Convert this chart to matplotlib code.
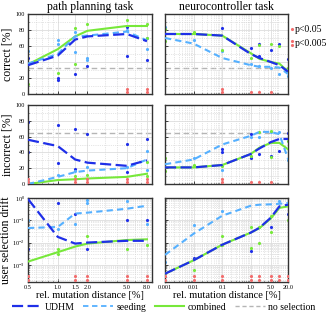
import matplotlib
matplotlib.use("Agg")
import matplotlib.pyplot as plt
from matplotlib.lines import Line2D
from matplotlib.ticker import FixedLocator, NullFormatter, LogLocator

plt.rcParams['font.family'] = ['Liberation Serif', 'DejaVu Serif']
plt.rcParams['mathtext.fontset'] = 'dejavuserif'

# x positions (rel. mutation distance [%])
x_pp = [0.5, 1.0, 1.5, 2.0, 5.0, 8.0]
x_nc = [0.001, 0.01, 0.1, 1.0, 2.0, 5.0, 10.0, 20.0]
xt_pp = [0.5, 1.0, 1.5, 2.0, 5.0, 8.0]
xt_pp_labels = ["0.5", "1.0", "1.5", "2.0", "5.0", "8.0"]
xt_nc = [0.001, 0.01, 0.1, 1.0, 5.0, 20.0]
xt_nc_labels = ["0.001", "0.01", "0.1", "1.0", "5.0", "20.0"]

# path planning: mean lines
pp_correct_udhm = [36, 48, 68, 72, 75, 66]
pp_correct_seed = [38, 50, 72, 73, 78, 67]
pp_correct_comb = [37, 56, 72, 79, 85, 85]
pp_incorrect_udhm = [56, 48, 31, 27, 23, 30]
pp_incorrect_seed = [0, 9, 15, 17, 20, 31]
pp_incorrect_comb = [0, 5, 6, 7, 9, 13]
pp_drift_udhm = [0.9, 0.018, 0.009, 0.010, 0.012, 0.012]
pp_drift_seed = [0.045, 0.05, 0.2, 0.22, 0.33, 0.45]
pp_drift_comb = [0.0014, 0.0037, 0.0066, 0.009, 0.013, 0.014]

# neurocontroller: mean lines
nc_correct_udhm = [75, 75, 73, 50, 45, 40, 36, 28]
nc_correct_seed = [70, 63, 45, 36, 34, 34, 33, 25]
nc_correct_comb = [75, 75, 73, 51, 44, 40, 38, 28]
nc_incorrect_udhm = [21, 21, 24, 38, 45, 53, 57, 57]
nc_incorrect_seed = [25, 31, 50, 61, 66, 66, 63, 32]
nc_incorrect_comb = [21, 21, 24, 38, 46, 52, 52, 44]
nc_drift_udhm = [0.0004, 0.0016, 0.008, 0.028, 0.046, 0.13, 0.42, 0.5]
nc_drift_seed = [0.0028, 0.025, 0.16, 0.45, 0.5, 0.52, 0.55, 0.6]
nc_drift_comb = [0.0004, 0.0016, 0.008, 0.028, 0.044, 0.12, 0.36, 0.42]

chance_correct = 33
chance_incorrect = 65

# single-run points: (x, y)
pp_correct_pts_udhm = [(0.5, 45), (1.0, 20), (1.0, 18), (1.5, 25), (2.0, 35), (5.0, 48), (5.0, 84), (8.0, 42)]
pp_correct_pts_seed = [(0.5, 54), (0.5, 39), (1.0, 63), (1.0, 67), (1.5, 52), (1.5, 77), (2.0, 45), (2.0, 43), (5.0, 80), (8.0, 56), (8.0, 70)]
pp_correct_pts_comb = [(0.5, 12), (1.0, 26), (1.5, 38), (1.5, 82), (2.0, 87), (5.0, 93), (8.0, 88), (8.0, 70)]
nc_correct_pts_udhm = [(0.1, 82), (1.0, 57), (2.0, 62), (2.0, 48), (5.0, 55), (10.0, 62), (20.0, 44)]
nc_correct_pts_seed = [(0.001, 84), (0.01, 68), (0.1, 54), (1.0, 38), (2.0, 35), (5.0, 32), (10.0, 25), (20.0, 22)]
nc_correct_pts_comb = [(0.001, 81), (0.001, 66), (0.01, 78), (0.1, 55), (1.0, 45), (2.0, 61), (5.0, 62), (10.0, 60), (20.0, 32)]
pp_incorrect_pts_udhm = [(0.5, 78), (0.5, 40), (1.0, 75), (1.0, 27), (1.5, 69), (1.5, 19), (2.0, 63), (5.0, 51), (5.0, 15), (8.0, 57)]
pp_incorrect_pts_seed = [(0.5, 2), (1.0, 12), (1.5, 17), (2.0, 21), (5.0, 22), (8.0, 42), (8.0, 18)]
pp_incorrect_pts_comb = [(1.5, 10), (2.0, 12), (8.0, 28), (8.0, 10)]
nc_incorrect_pts_udhm = [(0.1, 44), (0.1, 40), (1.0, 63), (1.0, 33), (2.0, 38), (5.0, 36), (10.0, 42), (20.0, 64)]
nc_incorrect_pts_seed = [(0.01, 33), (0.1, 18), (1.0, 60), (2.0, 60), (5.0, 66), (10.0, 66), (20.0, 31)]
nc_incorrect_pts_comb = [(0.001, 33), (0.001, 17), (0.01, 24), (0.1, 23), (1.0, 35), (2.0, 66), (5.0, 67), (5.0, 34), (20.0, 55)]
pp_drift_pts_udhm = [(0.5, 0.005), (1.0, 0.6), (1.5, 0.2), (2.0, 0.005), (5.0, 0.1), (8.0, 0.1)]
pp_drift_pts_seed = [(0.5, 0.1), (1.0, 0.04), (1.5, 0.07), (2.0, 0.8), (2.0, 0.6), (5.0, 0.7), (8.0, 0.07)]
pp_drift_pts_comb = [(1.0, 0.005), (1.0, 0.003), (2.0, 0.02), (5.0, 0.005), (8.0, 0.008)]
nc_drift_pts_udhm = [(0.01, 0.002), (1.0, 0.004), (5.0, 0.05), (20.0, 0.2)]
nc_drift_pts_seed = [(0.001, 0.0014), (0.01, 0.06), (0.1, 0.25), (10.0, 0.7)]
nc_drift_pts_comb = [(0.01, 0.0006), (0.1, 0.02), (0.1, 0.008), (1.0, 0.05), (1.0, 0.006), (2.0, 0.05), (2.0, 0.01), (5.0, 0.15), (5.0, 0.03), (20.0, 0.1)]

# significance markers: x -> 1 (p<0.05) or 2 (p<0.005)
pp_correct_sig = {5.0: 2, 8.0: 2}
nc_correct_sig = {0.1: 2, 1.0: 1, 2.0: 1, 5.0: 1}
pp_incorrect_sig = {0.5: 2, 1.5: 2, 2.0: 2, 5.0: 2, 8.0: 2}
nc_incorrect_sig = {0.1: 2, 1.0: 1, 2.0: 1, 5.0: 1}
pp_drift_sig = {0.5: 2, 1.5: 2, 2.0: 2, 5.0: 2, 8.0: 2}
nc_drift_sig = {0.001: 2, 0.01: 2, 0.1: 2, 1.0: 2, 2.0: 2, 5.0: 2, 10.0: 2, 20.0: 2}

c_udhm = "#1f2fe8"
c_seed = "#55b0ff"
c_comb = "#77e83a"
c_none = "#b5b5b5"
c_sig = "#f26d6d"

fig = plt.figure(figsize=(3.34, 3.17), dpi=100)
W, H = 334.0, 317.0
cols = [(28, 152), (165, 288)]
rows = [(14, 94), (105, 184), (198, 282)]
axes = {}
for r, (t, b) in enumerate(rows):
    for c, (l, rr) in enumerate(cols):
        axes[r, c] = fig.add_axes([l / W, 1 - b / H, (rr - l) / W, (b - t) / H])


def draw(ax, x, udhm, seed, comb, pts_u, pts_s, pts_c, sig, chance=None, log=False):
    for pts, col in [(pts_u, c_udhm), (pts_s, c_seed), (pts_c, c_comb)]:
        ax.plot([p[0] for p in pts], [p[1] for p in pts], ".", color=col, ms=2.5, zorder=2)
    if chance is not None:
        ax.axhline(chance, color=c_none, lw=1.0, dashes=(4, 2.5), zorder=1)
    ax.plot(x, comb, color=c_comb, lw=1.5, zorder=3)
    ax.plot(x, seed, color=c_seed, lw=1.5, dashes=(3, 2), zorder=4)
    ax.plot(x, udhm, color=c_udhm, lw=1.6, dashes=(5, 2), zorder=5)
    for xs, lev in sig.items():
        ys = [2.2e-4, 3.2e-4] if log else [2.5, 6.5]
        ax.plot([xs] * lev, ys[:lev], ".", color=c_sig, ms=2.5, zorder=6)


draw(axes[0, 0], x_pp, pp_correct_udhm, pp_correct_seed, pp_correct_comb,
     pp_correct_pts_udhm, pp_correct_pts_seed, pp_correct_pts_comb, pp_correct_sig, chance_correct)
draw(axes[0, 1], x_nc, nc_correct_udhm, nc_correct_seed, nc_correct_comb,
     nc_correct_pts_udhm, nc_correct_pts_seed, nc_correct_pts_comb, nc_correct_sig, chance_correct)
draw(axes[1, 0], x_pp, pp_incorrect_udhm, pp_incorrect_seed, pp_incorrect_comb,
     pp_incorrect_pts_udhm, pp_incorrect_pts_seed, pp_incorrect_pts_comb, pp_incorrect_sig, chance_incorrect)
draw(axes[1, 1], x_nc, nc_incorrect_udhm, nc_incorrect_seed, nc_incorrect_comb,
     nc_incorrect_pts_udhm, nc_incorrect_pts_seed, nc_incorrect_pts_comb, nc_incorrect_sig, chance_incorrect)
draw(axes[2, 0], x_pp, pp_drift_udhm, pp_drift_seed, pp_drift_comb,
     pp_drift_pts_udhm, pp_drift_pts_seed, pp_drift_pts_comb, pp_drift_sig, log=True)
draw(axes[2, 1], x_nc, nc_drift_udhm, nc_drift_seed, nc_drift_comb,
     nc_drift_pts_udhm, nc_drift_pts_seed, nc_drift_pts_comb, nc_drift_sig, log=True)

for (r, c), ax in axes.items():
    ax.set_xscale("log")
    if c == 0:
        ax.set_xlim(0.5, 9.0)
        ax.xaxis.set_major_locator(FixedLocator(xt_pp))
        ax.set_xticklabels(xt_pp_labels if r == 2 else [""] * len(xt_pp))
    else:
        ax.set_xlim(0.001, 20.0)
        ax.xaxis.set_major_locator(FixedLocator(xt_nc))
        ax.set_xticklabels(xt_nc_labels if r == 2 else [""] * len(xt_nc))
    ax.xaxis.set_minor_locator(LogLocator(base=10, subs=range(2, 10)))
    ax.xaxis.set_minor_formatter(NullFormatter())
    if r < 2:
        ax.set_ylim(0, 100)
        ax.set_yticks([0, 20, 40, 60, 80, 100])
        ax.set_yticks(range(10, 100, 20), minor=True)
    else:
        ax.set_yscale("log")
        ax.set_ylim(1.7e-4, 1.0)
        ax.set_yticks([1e-3, 1e-2, 1e-1, 1e0])
        ax.yaxis.set_minor_locator(LogLocator(base=10, subs=range(2, 10)))
        ax.yaxis.set_minor_formatter(NullFormatter())
    if c == 1:
        ax.tick_params(axis="y", labelleft=False)
    ax.grid(True, which="major", color="#dddddd", lw=0.6)
    ax.grid(True, which="minor", color="#cccccc", lw=0.5, ls=":")
    ax.tick_params(which="both", direction="in", length=2, width=0.5, labelsize=4.5, pad=2)
    ax.tick_params(which="minor", length=1)
    for s in ax.spines.values():
        s.set_linewidth(1.0)
        s.set_color("#333333")

axes[0, 0].set_title("path planning task", fontsize=8.5, pad=3)
axes[0, 1].set_title("neurocontroller task", fontsize=8.5, pad=3)
axes[0, 0].set_ylabel("correct [%]", fontsize=8.5, labelpad=2)
axes[1, 0].set_ylabel("incorrect [%]", fontsize=8.5, labelpad=2)
axes[2, 0].set_ylabel("user selection drift", fontsize=8.5, labelpad=0)
axes[2, 0].set_xlabel("rel. mutation distance [%]", fontsize=7.5, labelpad=1)
axes[2, 1].set_xlabel("rel. mutation distance [%]", fontsize=7.5, labelpad=1)

# significance legend
fig.lines.append(Line2D([292 / W], [1 - 29 / H], marker=".", color=c_sig, ms=2.5, ls="", transform=fig.transFigure))
fig.lines.append(Line2D([292 / W, 292 / W], [1 - 41 / H, 1 - 45 / H], marker=".", color=c_sig, ms=2.5, ls="", transform=fig.transFigure))
fig.text(295 / W, 1 - 29 / H, "p<0.05", fontsize=7, va="center", ha="left")
fig.text(295 / W, 1 - 43 / H, "p<0.005", fontsize=7, va="center", ha="left")

handles = [
    Line2D([], [], color=c_udhm, lw=1.6, dashes=(5, 2)),
    Line2D([], [], color=c_seed, lw=1.3, dashes=(3, 2)),
    Line2D([], [], color=c_comb, lw=1.5),
    Line2D([], [], color=c_none, lw=1.0, dashes=(3, 2)),
]
fig.legend(handles, ["UDHM", "seeding", "combined", "no selection"], loc="center",
           bbox_to_anchor=(0.49, 1 - 307 / H), ncol=4, frameon=False, fontsize=7,
           handlelength=3.0, handletextpad=0.4, columnspacing=0.9, borderpad=0)

fig.savefig("out.png", dpi=100)
